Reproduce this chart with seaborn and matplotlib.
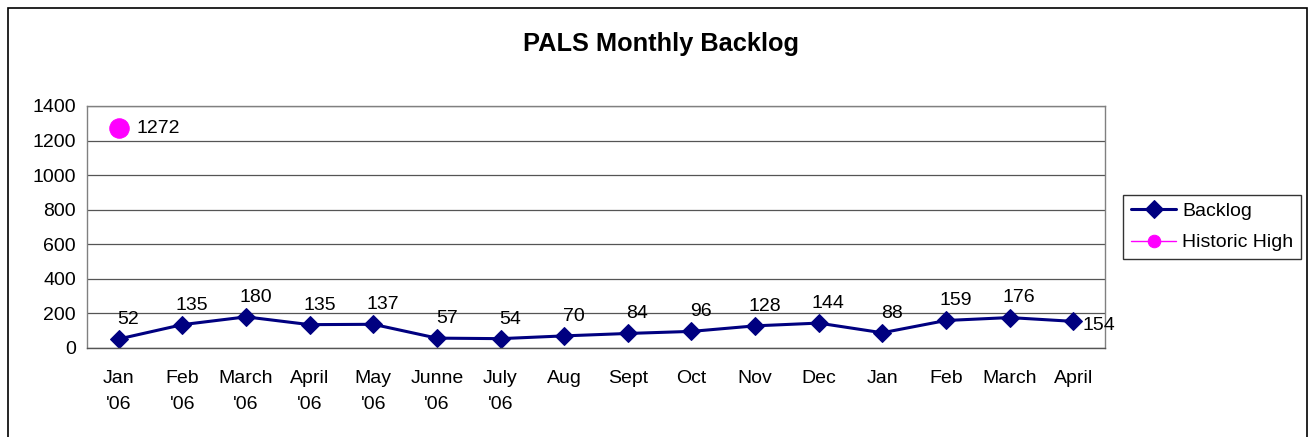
import numpy as np
import pandas as pd
import matplotlib.pyplot as plt
import matplotlib.patches as patches
import seaborn as sns

# Data
months = ["Jan\n'06", "Feb\n'06", "March\n'06", "April\n'06", "May\n'06", "Junne\n'06",
          "July\n'06", "Aug", "Sept", "Oct", "Nov", "Dec", "Jan", "Feb", "March", "April"]
backlog = [52, 135, 180, 135, 137, 57, 54, 70, 84, 96, 128, 144, 88, 159, 176, 154]
historic_high = [1272]
historic_idx = [0]

sns.set_style("white")
plt.rcParams['font.family'] = ['Liberation Sans', 'DejaVu Sans']
plt.rcParams['text.color'] = 'black'
plt.rcParams['xtick.color'] = 'black'
plt.rcParams['ytick.color'] = 'black'

FS = 14

df = pd.DataFrame({'pos': np.arange(len(months)), 'Backlog': backlog})
df_high = pd.DataFrame({'pos': historic_idx, 'Historic High': historic_high})

fig = plt.figure(figsize=(13.1, 4.37), dpi=100)
ax = fig.add_axes([0.0664, 0.2037, 0.7771, 0.5538])

sns.lineplot(data=df, x='pos', y='Backlog', ax=ax, color='#000080', linewidth=2.2,
             marker='D', markersize=9, markeredgecolor='#000080', label='Backlog')
sns.lineplot(data=df_high, x='pos', y='Historic High', ax=ax, color='#FF00FF', linewidth=1,
             marker='o', markersize=14, markeredgecolor='#FF00FF', label='Historic High')

# Data labels
for i, v in enumerate(backlog):
    if i == len(backlog) - 1:
        ax.annotate(str(v), (i, v), xytext=(7, -3), textcoords='offset points',
                    ha='left', va='center', fontsize=FS)
    else:
        ax.annotate(str(v), (i, v), xytext=(7, 8), textcoords='offset points',
                    ha='center', va='bottom', fontsize=FS)
for i, v in zip(historic_idx, historic_high):
    ax.annotate(str(v), (i, v), xytext=(13, 0), textcoords='offset points',
                ha='left', va='center', fontsize=FS)

# Axes
ax.set_xlim(-0.5, len(months) - 0.5)
ax.set_ylim(0, 1400)
ax.set_yticks(range(0, 1401, 200))
ax.set_xticks(np.arange(len(months)))
ax.set_xticklabels(months, fontsize=FS, linespacing=1.7)
ax.set_xticks(np.arange(-0.5, len(months), 1), minor=True)
ax.tick_params(axis='x', which='major', length=0, pad=16)
ax.tick_params(axis='x', which='minor', length=6, width=1, color='#555555', direction='out')
ax.tick_params(axis='y', length=5, width=1, color='#555555', direction='out', labelsize=FS, pad=3)
ax.set_xlabel('')
ax.set_ylabel('')

ax.yaxis.grid(True, color='#555555', linewidth=0.9)
ax.set_axisbelow(True)
for side in ['left', 'right', 'top', 'bottom']:
    ax.spines[side].set_visible(True)
    ax.spines[side].set_color('#808080')
    ax.spines[side].set_linewidth(1)
ax.spines['bottom'].set_color('#555555')

fig.text(661 / 1310, 1 - 44 / 437, 'PALS Monthly Backlog',
         ha='center', va='center', fontsize=18.3, fontweight='bold')

leg = ax.legend(loc='center left', bbox_to_anchor=(1123 / 1310, 1 - 227 / 437),
                bbox_transform=fig.transFigure, fontsize=FS, frameon=True,
                fancybox=False, edgecolor='black', handlelength=2.35, borderpad=0.4,
                labelspacing=0.7, handletextpad=0.3, borderaxespad=0)
leg.get_frame().set_linewidth(1)
for h in leg.legend_handles:
    h.set_markersize(9)

# Outer chart border
fig.patches.append(patches.Rectangle((8 / 1310, -0.01), 1299 / 1310, 1 - 8 / 437 + 0.01,
                                     transform=fig.transFigure, fill=False,
                                     edgecolor='black', linewidth=1.2))

fig.savefig('out.png', dpi=100)
